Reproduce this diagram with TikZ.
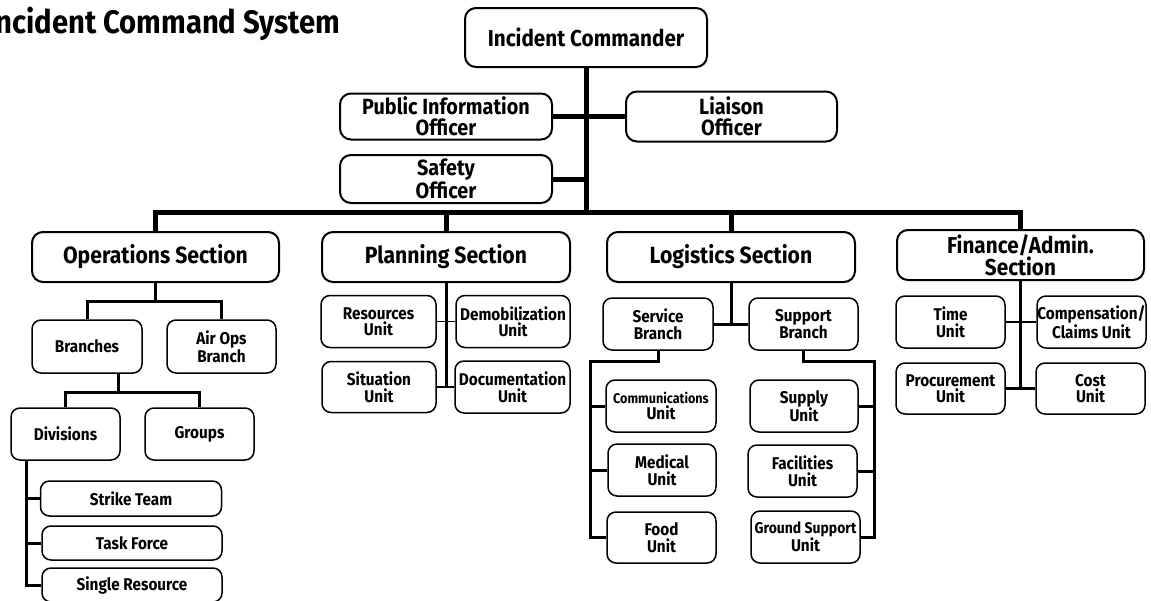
\documentclass[tikz,border=0pt]{standalone}
\usepackage{fontspec}
\setmainfont{Fira Sans}[FakeStretch=0.9]
\begin{document}
\begin{tikzpicture}[x=1pt,y=-1pt,
  box/.style={draw, line width=1.5pt, rounded corners=9pt, align=center, inner sep=0pt,
    font=\bfseries\fontsize{17}{16.5}\selectfont},
  secbox/.style={box, line width=2pt, rounded corners=11pt,
    font=\bfseries\fontsize{23.5}{19}\selectfont},
  offbox/.style={box, line width=2pt, rounded corners=11pt,
    font=\bfseries\fontsize{22}{20.5}\selectfont},
  mainln/.style={line width=5pt},
  midln/.style={line width=3pt},
  thinln/.style={line width=1.8pt}]
\useasboundingbox (0,0) rectangle (1151,600);

\node[anchor=base east, font=\bfseries\fontsize{32.5}{33}\selectfont] (title) at (344,33) {Incident Command System};

% top level
\node[secbox, minimum width=242pt, minimum height=59pt, font=\bfseries\fontsize{23}{19}\selectfont] (IC) at (586,37.5) {Incident Commander};
\node[offbox, minimum width=212pt, minimum height=46pt] (PIO) at (446,116.5) {Public Information\\Officer};
\node[offbox, minimum width=211pt, minimum height=50pt] (LO) at (731.5,116.5) {Liaison\\Officer};
\node[offbox, minimum width=212pt, minimum height=48pt] (SO) at (446,179) {Safety\\Officer};

% sections
\node[secbox, minimum width=247pt, minimum height=50pt] (Ops) at (155.5,257) {Operations Section};
\node[secbox, minimum width=248pt, minimum height=50pt] (Plan) at (446,257) {Planning Section};
\node[secbox, minimum width=248pt, minimum height=50pt] (Log) at (731,257) {Logistics Section};
\node[secbox, minimum width=247pt, minimum height=50pt, font=\bfseries\fontsize{23}{20}\selectfont] (Fin) at (1020.5,255) {Finance/Admin.\\Section};

% operations
\node[box, minimum width=110pt, minimum height=53pt] (Branches) at (87,346.5) {Branches};
\node[box, minimum width=109pt, minimum height=53pt] (AirOps) at (221.5,346.5) {Air Ops\\Branch};
\node[box, minimum width=109pt, minimum height=52pt] (Divisions) at (65.5,434) {Divisions};
\node[box, minimum width=109pt, minimum height=52pt] (Groups) at (199.5,434) {Groups};
\node[box, minimum width=181pt, minimum height=35pt] (Strike) at (131,498.5) {Strike Team};
\node[box, minimum width=180pt, minimum height=34pt] (Task) at (132,543) {Task Force};
\node[box, minimum width=180pt, minimum height=34pt] (Single) at (132,585) {Single Resource};

% planning
\node[box, minimum width=115pt, minimum height=52pt] (Resources) at (378.5,321.5) {Resources\\Unit};
\node[box, minimum width=114pt, minimum height=52pt] (Demob) at (513,321.5) {Demobilization\\Unit};
\node[box, minimum width=114pt, minimum height=51pt] (Situation) at (379,387) {Situation\\Unit};
\node[box, minimum width=115pt, minimum height=52pt] (Docu) at (512.5,387) {Documentation\\Unit};

% logistics
\node[box, minimum width=110pt, minimum height=52pt] (Service) at (658,324) {Service\\Branch};
\node[box, minimum width=109pt, minimum height=52pt] (Support) at (803.5,324) {Support\\Branch};
\node[box, minimum width=110pt, minimum height=52pt] (Comms) at (661,406) {{\fontsize{14}{16.5}\selectfont Communications}\\Unit};
\node[box, minimum width=108pt, minimum height=52pt] (Medical) at (662,470) {Medical\\Unit};
\node[box, minimum width=109pt, minimum height=51pt] (Food) at (661.5,537.5) {Food\\Unit};
\node[box, minimum width=108pt, minimum height=52pt] (Supply) at (804,406) {Supply\\Unit};
\node[box, minimum width=109pt, minimum height=52pt] (Facilities) at (802.5,471) {Facilities\\Unit};
\node[box, minimum width=109pt, minimum height=52pt] (Ground) at (805.5,537) {{\fontsize{15.5}{16.5}\selectfont Ground Support}\\Unit};

% finance
\node[box, minimum width=109pt, minimum height=52pt] (Time) at (950.5,322) {Time\\Unit};
\node[box, minimum width=109pt, minimum height=52pt] (Comp) at (1091.5,322) {Compensation/\\Claims Unit};
\node[box, minimum width=109pt, minimum height=51pt] (Proc) at (950.5,388.5) {Procurement\\Unit};
\node[box, minimum width=109pt, minimum height=51pt] (Cost) at (1090.5,388.5) {Cost\\Unit};

% ---- connectors
\coordinate (barY) at (0,212);
\draw[mainln] (IC.south) -- (IC.south |- barY);
\draw[mainln] (PIO) -- (LO);
\draw[mainln] (SO.east) -- (SO.east -| IC.south);
\draw[mainln] (Ops.north) |- (Ops.north |- barY) -- (Fin.north |- barY) -- (Fin.north);
\draw[mainln] (Plan.north) -- (Plan.north |- barY);
\draw[mainln] (Log.north) -- (Log.north |- barY);

% operations
\path (Ops.south) ++(0,18) coordinate (opsJ);
\draw[midln] (Ops.south) -- (opsJ);
\draw[midln] (Branches.north) |- (opsJ) -| (AirOps.north);
\coordinate (brJ) at (118,392);
\draw[midln] (Branches.south -| brJ) -- (brJ);
\draw[midln] (Divisions.north) |- (brJ) -| (Groups.north);
\coordinate (divX) at (26,0);
\draw[midln] (Divisions.south -| divX) |- (Single.west);
\draw[midln] (divX |- Strike.west) -- (Strike.west);
\draw[midln] (divX |- Task.west) -- (Task.west);

% planning
\draw[midln] (Plan.south) -- (Plan.south |- Situation.east);
\draw[thinln] (Resources) -- (Demob);
\draw[thinln] (Situation) -- (Docu);

% logistics
\draw[midln] (Log.south) -- (Log.south |- Service.east);
\draw[midln] (Service) -- (Support);
\coordinate (svcL) at (590,361);
\draw[midln] (Service.south) |- (svcL) |- (Food.west);
\draw[midln] (svcL |- Comms.west) -- (Comms.west);
\draw[midln] (svcL |- Medical.west) -- (Medical.west);
\coordinate (supR) at (874,361);
\draw[midln] (Support.south) |- (supR) |- (Ground.east);
\draw[midln] (supR |- Supply.east) -- (Supply.east);
\draw[midln] (supR |- Facilities.east) -- (Facilities.east);

% finance
\draw[midln] (Fin.south) -- (Fin.south |- Proc.east);
\draw[thinln] (Time) -- (Comp);
\draw[midln] (Proc) -- (Cost);
\end{tikzpicture}
\end{document}
